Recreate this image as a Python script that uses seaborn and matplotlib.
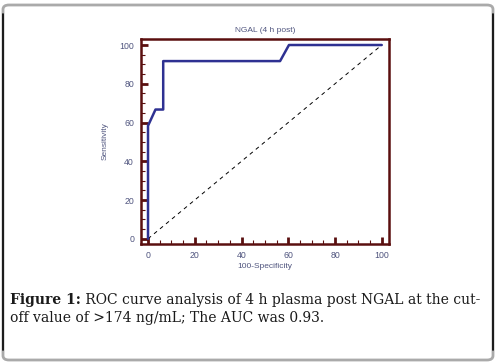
import numpy as np
import pandas as pd
import seaborn as sns
import matplotlib.pyplot as plt
from matplotlib.patches import FancyBboxPatch
from matplotlib.lines import Line2D
from matplotlib.ticker import MultipleLocator

sns.set_style("white")
plt.rcParams["font.family"] = ["Liberation Sans", "DejaVu Sans"]

# ROC curve
fpr = [0, 0, 3.2, 6.5, 6.5, 56.5, 60.3, 100]
tpr = [0, 58.3, 66.7, 66.7, 91.7, 91.7, 100, 100]
ref_x = [0, 100]
ref_y = [0, 100]
title = "NGAL (4 h post)"
caption_bold = "Figure 1:"
caption_1 = " ROC curve analysis of 4 h plasma post NGAL at the cut-"
caption_2 = "off value of >174 ng/mL; The AUC was 0.93."

roc = pd.DataFrame({"fpr": fpr, "tpr": tpr})

navy = "#2e3192"
maroon = "#5a0f0f"
txt = "#50557f"

fig = plt.figure(figsize=(4.99, 3.64), dpi=100, facecolor="w")
ax = fig.add_axes([141/499, 1-244/364, 248/499, 205/364])

ax.plot(ref_x, ref_y, color="k", lw=0.7, ls=(0, (4, 4)))
sns.lineplot(data=roc, x="fpr", y="tpr", sort=False, estimator=None,
             color=navy, lw=1.8, ax=ax)

ax.set_xlim(-3.0, 103.1)
ax.set_ylim(-2.7, 103.1)
ax.xaxis.set_major_locator(MultipleLocator(20))
ax.yaxis.set_major_locator(MultipleLocator(20))
ax.xaxis.set_minor_locator(MultipleLocator(5))
ax.yaxis.set_minor_locator(MultipleLocator(5))
ax.tick_params(which="major", direction="in", length=5, width=2, color=maroon,
               labelsize=6.3, labelcolor=txt, pad=5)
ax.tick_params(which="minor", direction="in", length=3, width=0.8, color=maroon)
ax.tick_params(bottom=True, left=True, which="both")
for s in ax.spines.values():
    s.set_color(maroon)
    s.set_linewidth(1.8)

ax.set_xlabel("100-Specificity", fontsize=6, color=txt, labelpad=2)
ax.set_ylabel("Sensitivity", fontsize=6, color=txt, labelpad=8)
ax.set_title(title, fontsize=6, color=txt, pad=5)

# outer frame
box = FancyBboxPatch((3/499, 4/364), 490/499, 355/364,
                     boxstyle="round,pad=0,rounding_size=0.012",
                     transform=fig.transFigure, fill=False,
                     edgecolor="#aaaaaa", lw=2)
fig.patches.append(box)
fig.lines.append(Line2D([3/499, 3/499], [14/364, 350/364], transform=fig.transFigure,
                        color="k", lw=1.2))
fig.lines.append(Line2D([493/499, 493/499], [14/364, 350/364], transform=fig.transFigure,
                        color="k", lw=1.2))

# caption
serif = ["DejaVu Serif"]
fs = 10.0
t = fig.text(10/499, 1-304/364, caption_bold, fontsize=fs, family=serif,
             fontweight="semibold", color="#1a1a1a")
fig.canvas.draw()
bb = t.get_window_extent()
fig.text(bb.x1/499, 1-304/364, caption_1, fontsize=fs,
         family=serif, color="#1a1a1a")
fig.text(10/499, 1-322/364, caption_2, fontsize=fs, family=serif, color="#1a1a1a")

fig.savefig("out.png", dpi=100)
